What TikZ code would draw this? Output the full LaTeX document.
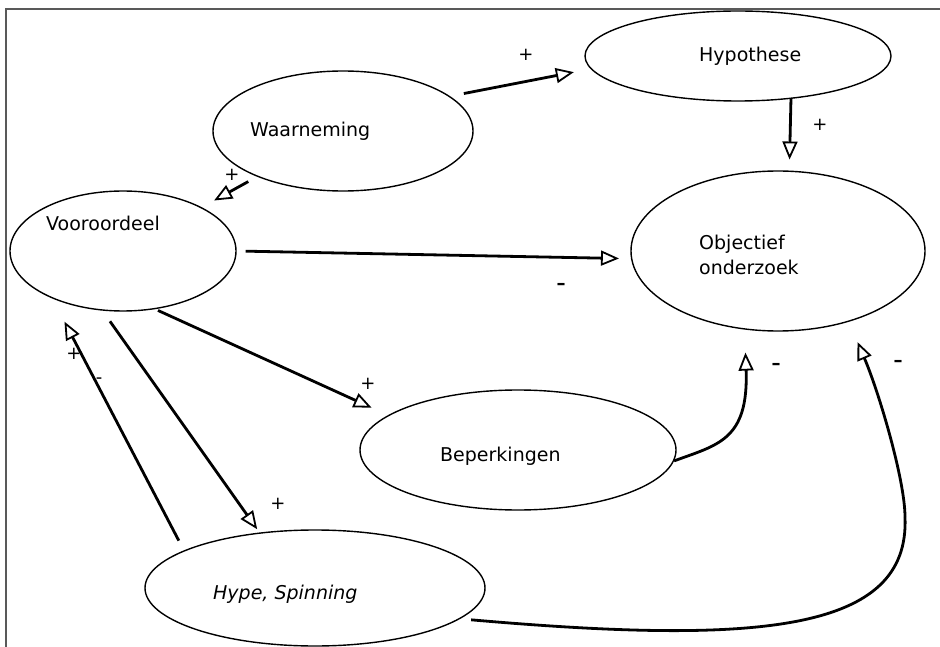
\documentclass[tikz,border=0pt]{standalone}
\usepackage{fontspec}
\setmainfont{DejaVu Sans}
\usetikzlibrary{shapes.geometric,arrows.meta}
\tikzset{
  bubble/.style={draw=black,ellipse,line width=1.4pt,inner sep=0pt},
  lbl/.style={anchor=base west,inner sep=0pt,font=\fontsize{19}{22}\selectfont},
  sign/.style={inner sep=0pt,font=\fontsize{18}{20}\selectfont},
  dashsign/.style={inner sep=0pt,font=\fontsize{18}{20}\selectfont\bfseries},
  conn/.style={line width=2.8pt,-{Triangle[open,length=18pt,width=15pt,line width=1.8pt]}},
  frameline/.style={draw=black!65,line width=2pt}
}
\begin{document}
\begin{tikzpicture}[x=1pt,y=-1pt]
\useasboundingbox (0,0) rectangle (940,647);
\draw[frameline] (6,647) -- (6,9) -- (940,9);
% ellipses
\node[bubble,minimum width=260pt,minimum height=120pt] (wa) at (343,131) {};
\node[bubble,minimum width=226pt,minimum height=120pt] (vo) at (123,251) {};
\node[bubble,minimum width=306pt,minimum height=90pt] (hy) at (738,56) {};
\node[bubble,minimum width=294pt,minimum height=160pt] (ob) at (778,251) {};
\node[bubble,minimum width=316pt,minimum height=120pt] (be) at (518,450) {};
\node[bubble,minimum width=340pt,minimum height=116pt] (hs) at (315,588) {};
% texts
\node[lbl] (twa) at (250,137) {Waarneming};
\node[lbl] (tvo) at (46,231) {Vooroordeel};
\node[lbl] (thy) at (699,62) {Hypothese};
\node[lbl] (tob1) at (699,250) {Objectief};
\node[lbl] (tob2) at (699,274) {onderzoek};
\node[lbl] (tbe) at (440,461) {Beperkingen};
\node[lbl,font=\fontsize{19}{22}\selectfont\itshape] (ths) at (213,599) {Hype, Spinning};
% connectors
\draw[conn,shorten <=14pt,shorten >=17pt] (wa.18) -- (hy.185);
\draw[conn,shorten <=0pt,shorten >=11pt] (hy.321) -- (ob.82);
\draw[conn,shorten <=10pt,shorten >=14pt] (wa.208) -- (vo.29);
\draw[conn,shorten <=9pt,shorten >=12pt] (vo.0) -- (ob.183.6);
\draw[conn,shorten <=3pt,shorten >=18pt] (vo.299.5) -- (be.165.2);
\draw[conn,shorten <=13pt,shorten >=4pt] (vo.251.4) -- (hs.135);
\draw[conn,shorten <=11pt,shorten >=26pt] (hs.164) -- (vo.214.2);
\draw[conn,shorten >=23pt] (be.356) .. controls +(43,-16) and +(4,111) .. (ob.247.7);
\coordinate (bend) at (905,517);
\draw[line width=2.8pt,shorten <=11pt] (hs.348.5) .. controls (760,645) and (910,632) .. (bend);
\draw[conn,shorten >=22pt] (bend) .. controls (905,480) and +(30,70) .. (ob.315.8);
% signs
\node[sign] (s1) at (526,55) {+};
\node[sign] (s2) at (820,125) {+};
\node[sign] (s3) at (232,175) {+};
\node[dashsign] (s4) at (561,286) {–};
\node[sign] (s5) at (368,384) {+};
\node[sign] (s6) at (278,504) {+};
\node[sign] (s7) at (74,354) {+};
\node[sign] (s8) at (99,381) {-};
\node[dashsign] (s9) at (776,366) {–};
\node[dashsign] (s10) at (898,363) {–};
\end{tikzpicture}
\end{document}
